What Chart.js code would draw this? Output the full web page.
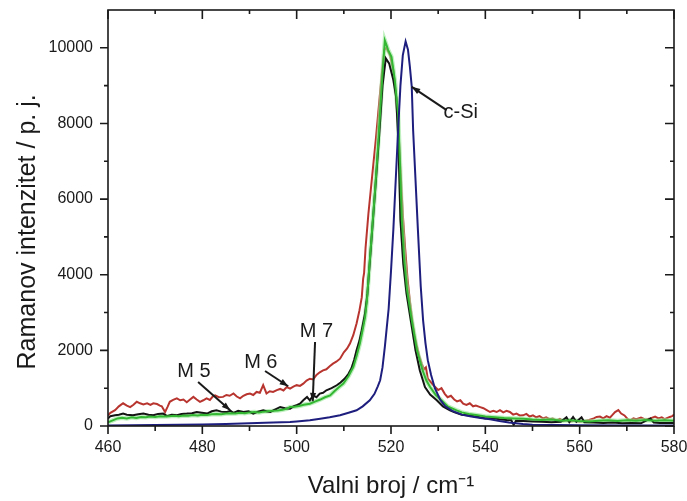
<!DOCTYPE html>
<html>
<head>
<meta charset="utf-8">
<title>Raman spektri</title>
<script src="https://cdn.jsdelivr.net/npm/chart.js@4.4.1/dist/chart.umd.min.js"></script>
<style>
  body { margin: 0; background: #fff; }
  canvas { display: block; }
</style>
</head>
<body>
<canvas id="ramanChart" width="687" height="501"></canvas>
<script>
// axis ticks
const xTicks = [460, 480, 500, 520, 540, 560, 580];
const xMinorTicks = [470, 490, 510, 530, 550, 570];
const yTicks = [0, 2000, 4000, 6000, 8000, 10000];
const yMinorTicks = [1000, 3000, 5000, 7000, 9000];

// spectra: [wavenumber, intensity]
const redPoints = [
    [460, 280], [460.5, 350], [461.5, 420], [462.3, 520], [463.2, 600], [464, 540], [464.7, 500], [465.4, 560],
    [466.1, 640], [466.8, 600], [467.5, 570], [468.3, 600], [469, 560], [469.6, 600], [470.4, 580], [471, 540],
    [471.4, 520], [472.1, 370], [472.6, 500], [473.1, 640], [473.8, 690], [474.6, 730], [475.3, 680], [476, 700],
    [476.7, 630], [477.4, 700], [478.1, 770], [478.8, 700], [479.5, 640], [480.2, 680], [480.9, 730], [481.6, 690],
    [482.2, 780], [482.7, 810], [483.5, 760], [484.4, 770], [485.1, 820], [485.8, 800], [486.6, 860], [487.3, 780],
    [488, 730], [488.7, 800], [489.4, 840], [490.1, 860], [490.8, 820], [491.5, 900], [492.2, 880], [492.9, 1080],
    [493.6, 860], [494.3, 920], [495, 900], [495.8, 950], [496.5, 980], [497.2, 940], [497.9, 1030], [498.6, 990],
    [499.3, 1040], [500, 1080], [500.7, 1060], [501.4, 1120], [502.1, 1200], [502.8, 1250], [503.5, 1230], [504.2, 1350],
    [504.9, 1420], [505.6, 1470], [506.3, 1500], [507, 1580], [507.7, 1650], [508.4, 1700], [509.2, 1780], [510, 1950],
    [510.7, 2050], [511.3, 2180], [512, 2400], [512.7, 2710], [513.3, 3050], [513.8, 3400], [514.1, 3900], [514.3, 4050],
    [514.6, 4700], [515.2, 5600], [516, 6600], [516.8, 7600], [517.6, 8700], [518.2, 9500], [518.6, 9950], [519, 10000],
    [519.8, 9800], [520.5, 9400], [521, 8800], [521.5, 8000], [522, 6800], [522.5, 5600], [523, 4700], [523.5, 3900],
    [524, 3300], [524.5, 2800], [525, 2400], [525.5, 2100], [526, 1850], [526.5, 1650], [527, 1500], [527.4, 1550],
    [527.8, 1250], [528.5, 1150], [529.2, 1050], [530, 950], [530.7, 1000], [531.4, 850], [532, 760], [532.7, 800],
    [533.4, 700], [534, 650], [534.7, 680], [535.3, 590], [536, 560], [536.7, 600], [537.4, 520], [538, 540],
    [538.9, 500], [539.6, 470], [540.3, 420], [541, 370], [541.7, 400], [542.4, 370], [543.1, 420], [543.8, 360],
    [544.5, 400], [545.2, 370], [545.9, 300], [546.6, 330], [547.3, 280], [548, 283], [548.7, 320], [549.4, 250],
    [550.1, 280], [550.8, 230], [551.5, 260], [552.2, 200], [552.9, 230], [553.6, 180], [554.3, 200], [555.1, 150],
    [555.8, 190], [556.5, 130], [557.2, 150], [558, 120], [559, 140], [560, 110], [561, 130], [562, 160],
    [563, 200], [563.6, 240], [564.3, 250], [565, 200], [565.7, 260], [566.4, 220], [567, 300], [567.5, 370],
    [568.2, 420], [568.8, 330], [569.5, 280], [570.2, 180], [570.7, 150], [571.4, 200], [572, 180], [573, 220],
    [574, 170], [575, 200], [576, 250], [576.7, 200], [577.4, 230], [578, 180], [579.1, 240], [579.6, 260], [580, 300]
];

const blackPoints = [
    [460, 195], [460.5, 260], [461.5, 283], [462.3, 300], [463.2, 328], [464, 300], [465.3, 283], [466.4, 310],
    [467.5, 328], [468.6, 300], [469.6, 283], [470.6, 320], [471.7, 328], [472.5, 260], [473.5, 300], [474.6, 283],
    [475.6, 320], [476.7, 328], [477.8, 340], [478.8, 370], [479.9, 350], [481, 328], [482, 390], [483, 415],
    [484, 380], [485.2, 370], [486, 400], [486.6, 345], [487.6, 400], [488.7, 370], [489.8, 390], [490.8, 328],
    [491.8, 380], [492.9, 415], [493.6, 390], [494.4, 370], [495.5, 440], [496.5, 503], [497.5, 470], [498.6, 459],
    [499.3, 520], [500, 548], [500.7, 590], [501.4, 680], [502.2, 767], [502.8, 680], [503.5, 812], [504.2, 760],
    [504.9, 857], [505.6, 880], [506.3, 944], [507.4, 1000], [508.5, 1077], [509.3, 1150], [510.2, 1254], [511, 1380],
    [511.6, 1518], [512.2, 1750], [512.7, 2003], [513.3, 2250], [513.8, 2532], [514.5, 2974], [515, 3500], [515.6, 4500],
    [516.2, 5500], [516.8, 6500], [517.5, 7700], [518.2, 9000], [518.9, 9720], [519.6, 9590], [520.5, 9150], [521.1, 8700],
    [521.6, 7400], [522, 5440], [522.6, 4300], [523.3, 3500], [524.2, 2796], [525.2, 2000], [526.1, 1474], [527.2, 1032],
    [528.3, 830], [529.7, 680], [531, 520], [532.5, 415], [533.5, 360], [535, 300], [536.5, 280], [538, 250],
    [540, 200], [541.5, 210], [543, 180], [544.5, 160], [545.5, 150], [546, 30], [546.5, 140], [548, 130],
    [550, 120], [552, 110], [554, 100], [556, 110], [557.2, 230], [557.8, 100], [558.6, 240], [559.3, 110],
    [560.4, 230], [561, 100], [563, 90], [565, 80], [567, 90], [569, 70], [571, 80], [573, 70],
    [575, 200], [575.7, 90], [577, 80], [580, 80]
];

const greenPoints = [
    [460, 100], [461, 150], [462, 200], [463, 220], [464, 200], [465, 230], [466, 210], [467, 240],
    [468, 230], [469, 250], [470, 240], [471, 260], [472, 250], [473, 260], [474, 270], [475, 260],
    [476, 280], [477, 270], [478, 290], [479, 280], [480, 300], [481, 290], [482, 310], [483, 320],
    [484, 310], [485, 330], [486, 340], [487, 330], [488, 350], [489, 340], [490, 360], [491, 370],
    [492, 360], [493, 380], [494, 390], [495, 400], [496, 410], [497, 430], [498, 460], [498.6, 500],
    [499.5, 510], [500.5, 530], [501.5, 560], [502.8, 590], [504, 650], [505, 700], [506, 760], [507.1, 810],
    [508, 920], [509, 1030], [509.9, 1120], [511, 1320], [512, 1560], [512.7, 1850], [513.4, 2180], [514, 2550],
    [514.5, 2880], [514.9, 3325], [515.4, 4200], [516, 5200], [516.6, 6200], [517.2, 7300], [517.8, 8500], [518.3, 9500],
    [518.7, 10190], [519.1, 10050], [519.4, 9940], [520.1, 9760], [520.8, 9150], [521.5, 8260], [521.9, 6940], [522.3, 5440],
    [522.8, 4400], [523.4, 3600], [524.4, 2800], [525.5, 2000], [526.7, 1470], [527.5, 1200], [528.3, 1030], [529.5, 820],
    [530.7, 680], [532, 520], [533.9, 415], [535, 360], [536.5, 320], [538, 290], [540, 250], [542, 230],
    [544, 210], [546, 200], [548, 190], [550, 170], [552, 160], [554, 170], [556, 140], [558, 150],
    [560, 130], [562, 120], [564, 140], [566, 150], [568, 130], [570, 150], [572, 140], [574, 160],
    [576, 140], [578, 150], [580, 140]
];

const bluePoints = [
    [460, 15], [465, 20], [470, 25], [475, 30], [480, 40], [485, 50], [490, 70], [495, 90],
    [498.6, 106], [500, 120], [502.8, 150], [505, 190], [507, 230], [509.2, 283], [511, 350], [512.7, 415],
    [514, 520], [515.5, 680], [516.5, 850], [517.2, 1050], [517.7, 1210], [518.2, 1550], [518.7, 2100], [519.1, 2600],
    [519.5, 3100], [520, 4100], [520.5, 5200], [521, 6500], [521.5, 7800], [522, 9000], [522.5, 9800], [523.1, 10170],
    [523.6, 9950], [524, 9500], [524.4, 8970], [524.7, 7800], [525.2, 6500], [525.7, 5200], [526.3, 3700], [526.8, 2800],
    [527.3, 2200], [527.8, 1740], [528.5, 1350], [529.3, 1000], [530.4, 700], [531.5, 520], [533, 400], [535, 300],
    [537, 250], [539, 210], [541, 180], [543, 130], [545, 90], [548, 50], [550, 35], [555, 25],
    [560, 20], [570, 15], [580, 15]
];

// labels with arrows, in data units
const noteLabels = ['M 5', 'M 6', 'M 7', 'c-Si'];
const noteTextX = [478.2, 492.4, 504.2, 534.8];
const noteTextY = [1447, 1685, 2492, 8286];
const noteFromX = [479.1, 493.3, 503.9, 531.8];
const noteFromY = [1164, 1455, 2222, 8352];
const noteToX = [485.9, 498.2, 503.4, 524.4];
const noteToY = [415, 1050, 653, 8968];

const FONT = "'Liberation Sans', Arial, sans-serif";

function toXY(points) {
    return points.map(p => ({ x: p[0], y: p[1] }));
}

const axisFrame = {
    id: 'axisFrame',
    afterDatasetsDraw(chart) {
        const { ctx, chartArea: a, scales: { x, y } } = chart;
        ctx.save();
        ctx.strokeStyle = '#1a1a1a';
        ctx.lineWidth = 1.6;
        ctx.strokeRect(a.left, a.top, a.right - a.left, a.bottom - a.top);
        ctx.beginPath();
        const xMark = (v, outLen, inLen) => {
            const px = x.getPixelForValue(v);
            ctx.moveTo(px, a.bottom);
            ctx.lineTo(px, a.bottom + outLen);
            ctx.moveTo(px, a.top);
            ctx.lineTo(px, a.top + inLen);
        };
        const yMark = (v, outLen, inLen) => {
            const py = y.getPixelForValue(v);
            ctx.moveTo(a.left, py);
            ctx.lineTo(a.left - outLen, py);
            ctx.moveTo(a.right, py);
            ctx.lineTo(a.right - inLen, py);
        };
        xTicks.forEach(v => xMark(v, 8, 9));
        xMinorTicks.forEach(v => xMark(v, 5, 4));
        yTicks.forEach(v => yMark(v, 8, 9));
        yMinorTicks.forEach(v => yMark(v, 4, 4));
        ctx.stroke();
        ctx.restore();
    }
};

const arrowNotes = {
    id: 'arrowNotes',
    afterDraw(chart) {
        const { ctx, scales: { x, y } } = chart;
        ctx.save();
        ctx.fillStyle = '#1a1a1a';
        ctx.strokeStyle = '#1a1a1a';
        ctx.lineWidth = 2;
        ctx.font = '20px ' + FONT;
        ctx.textAlign = 'center';
        ctx.textBaseline = 'middle';
        noteLabels.forEach((label, i) => {
            ctx.fillText(label, x.getPixelForValue(noteTextX[i]), y.getPixelForValue(noteTextY[i]));
            const x0 = x.getPixelForValue(noteFromX[i]);
            const y0 = y.getPixelForValue(noteFromY[i]);
            const x1 = x.getPixelForValue(noteToX[i]);
            const y1 = y.getPixelForValue(noteToY[i]);
            ctx.beginPath();
            ctx.moveTo(x0, y0);
            ctx.lineTo(x1, y1);
            ctx.stroke();
            const ang = Math.atan2(y1 - y0, x1 - x0);
            ctx.beginPath();
            ctx.moveTo(x1, y1);
            ctx.lineTo(x1 - 9 * Math.cos(ang - 0.35), y1 - 9 * Math.sin(ang - 0.35));
            ctx.lineTo(x1 - 9 * Math.cos(ang + 0.35), y1 - 9 * Math.sin(ang + 0.35));
            ctx.closePath();
            ctx.fill();
        });
        ctx.restore();
    }
};

const ctx = document.getElementById('ramanChart').getContext('2d');
new Chart(ctx, {
    type: 'line',
    data: {
        datasets: [{
            label: 'M 6',
            data: toXY(redPoints),
            borderColor: '#b8352f',
            borderWidth: 2,
            order: 6
        }, {
            label: 'black',
            data: toXY(blackPoints),
            borderColor: '#141414',
            borderWidth: 2,
            order: 4
        }, {
            label: 'green halo',
            data: toXY(greenPoints),
            borderColor: 'rgba(150, 230, 150, 0.6)',
            borderWidth: 4.5,
            order: 5
        }, {
            label: 'green',
            data: toXY(greenPoints),
            borderColor: '#34b834',
            borderWidth: 2,
            order: 3
        }, {
            label: 'c-Si',
            data: toXY(bluePoints),
            borderColor: '#1e1e7e',
            borderWidth: 2,
            order: 2
        }]
    },
    options: {
        responsive: false,
        animation: false,
        layout: { padding: { left: 0, top: 10, right: 13, bottom: 0 } },
        elements: {
            point: { radius: 0 },
            line: { tension: 0, fill: false }
        },
        plugins: {
            legend: { display: false },
            tooltip: { enabled: false }
        },
        scales: {
            x: {
                type: 'linear',
                min: 460,
                max: 580,
                afterBuildTicks: s => { s.ticks = xTicks.map(v => ({ value: v })); },
                afterFit: s => {
                    s.height = 75;
                    s.paddingLeft = 0;
                    s.paddingRight = 0;
                },
                grid: { display: false, drawTicks: false },
                border: { display: false },
                ticks: { color: '#1a1a1a', padding: 12, maxRotation: 0, font: { family: FONT, size: 16 } },
                title: {
                    display: true,
                    text: 'Valni broj / cm⁻¹',
                    color: '#1a1a1a',
                    font: { family: FONT, size: 24 },
                    padding: { top: 0, bottom: 0 }
                }
            },
            y: {
                type: 'linear',
                min: 0,
                max: 11000,
                afterBuildTicks: s => { s.ticks = yTicks.map(v => ({ value: v })); },
                afterFit: s => {
                    s.width = 108;
                    s.paddingTop = 0;
                    s.paddingBottom = 0;
                },
                grid: { display: false, drawTicks: false },
                border: { display: false },
                ticks: {
                    color: '#1a1a1a',
                    padding: 15,
                    font: { family: FONT, size: 16 },
                    callback: v => String(v)
                },
                title: {
                    display: true,
                    // trailing spaces push the centred label down, as in the original
                    text: 'Ramanov intenzitet / p. j.\u00a0\u00a0\u00a0\u00a0',
                    color: '#1a1a1a',
                    font: { family: FONT, size: 25 },
                    padding: { top: 13, bottom: 0 }
                }
            }
        }
    },
    plugins: [axisFrame, arrowNotes]
});
</script>
</body>
</html>
